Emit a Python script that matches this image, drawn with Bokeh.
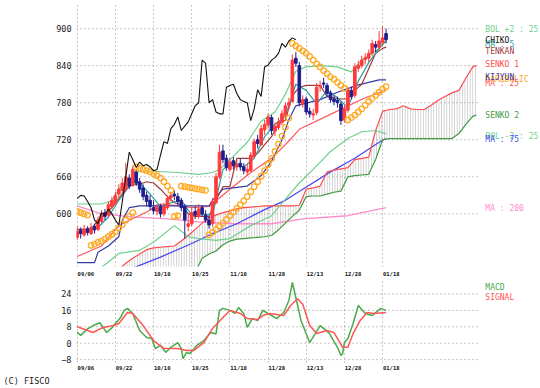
from bokeh.plotting import figure
from bokeh.models import Range1d, FixedTicker, ColumnDataSource, Title
from bokeh.core.properties import value
from bokeh.layouts import column
from bokeh.embed import file_html
from bokeh.resources import INLINE

# ---------------- data ----------------
tick_idx = [0, 11, 22, 33, 44, 55, 66, 77, 88]
tick_labels = ["09/06", "09/22", "10/10", "10/25", "11/10", "11/28", "12/13", "12/28", "01/18"]
price_ticks = [600, 660, 720, 780, 840, 900]
macd_ticks = [-8, 0, 8, 16, 24]

idx = list(range(90))
opens = [562, 574, 566, 576, 568, 580, 575, 588, 602, 598,
         612, 618, 632, 638, 640, 658, 646, 668, 652, 642,
         630, 622, 610, 604, 612, 600, 610, 626, 632, 628,
         622, 612, 580, 584, 604, 596, 610, 598, 590, 584,
         618, 660, 702, 690, 672, 686, 676, 682, 676, 668,
         670, 694, 720, 712, 736, 744, 756, 734, 740, 748,
         760, 776, 782, 852, 840, 778, 786, 766, 760, 764,
         806, 812, 808, 796, 786, 784, 778, 752, 768, 800,
         792, 836, 840, 850, 852, 860, 874, 870, 878, 892]
highs = [580, 578, 582, 580, 585, 584, 596, 606, 608, 620,
         628, 636, 648, 658, 682, 664, 678, 672, 658, 648,
         636, 630, 622, 616, 616, 618, 630, 636, 638, 634,
         626, 616, 600, 610, 612, 616, 614, 606, 596, 626,
         666, 712, 712, 696, 690, 692, 688, 690, 682, 680,
         700, 722, 728, 744, 752, 762, 760, 748, 756, 768,
         780, 788, 858, 862, 846, 792, 790, 772, 770, 812,
         816, 820, 812, 800, 792, 790, 782, 776, 806, 806,
         844, 848, 856, 860, 866, 882, 880, 896, 904, 900]
lows = [558, 560, 563, 565, 566, 568, 572, 585, 590, 594,
        608, 614, 626, 632, 636, 640, 644, 645, 634, 622,
        612, 606, 600, 598, 594, 596, 606, 620, 622, 614,
        604, 560, 572, 580, 592, 592, 596, 586, 576, 580,
        616, 656, 682, 670, 668, 672, 670, 670, 664, 662,
        668, 690, 706, 710, 728, 738, 728, 726, 736, 744,
        756, 770, 780, 838, 774, 772, 760, 756, 752, 760,
        798, 804, 790, 780, 776, 772, 744, 748, 764, 786,
        788, 830, 836, 842, 846, 856, 862, 866, 874, 876]
closes = [572, 568, 575, 570, 578, 574, 590, 600, 596, 615,
          622, 630, 640, 650, 660, 645, 672, 650, 640, 628,
          620, 612, 605, 610, 600, 612, 625, 630, 629, 620,
          610, 590, 584, 602, 598, 608, 600, 590, 582, 620,
          660, 700, 688, 675, 684, 678, 680, 676, 670, 672,
          695, 717, 714, 738, 745, 757, 735, 742, 749, 762,
          775, 780, 849, 844, 780, 785, 765, 762, 762, 805,
          808, 810, 795, 785, 782, 780, 751, 770, 801, 790,
          838, 841, 849, 853, 860, 876, 870, 880, 885, 882]

psar = [604, 602, 600, 598,
        549, 551, 554, 556, 559, 563, 567, 571, 577, 583, 590, 596, 602,
        676, 674, 672, 670, 668, 665, 662, 658, 652, 645, 638,
        596, 597,
        645, 644, 643, 642, 641, 640, 639, 638,
        566, 570, 575, 580, 585, 591, 597, 603, 609, 615, 621, 628, 636, 644,
        652, 661, 670, 680, 690, 701, 713, 726, 740, 755,
        876, 872, 868, 864, 860, 855, 849, 843, 838, 832, 827, 822, 818, 813, 808, 803,
        752, 756, 760, 765, 770, 776, 782, 787, 792, 797, 802, 806]

ma5_x = [0, 3, 6, 9, 12, 15, 18, 21, 24, 27, 30, 33, 36, 39, 42, 45, 48, 51, 54, 57, 60, 63, 66, 69, 72, 75, 78, 81, 84, 87, 89]
ma5_y = [568, 572, 578, 595, 622, 645, 650, 632, 612, 618, 622, 598, 600, 598, 672, 684, 676, 690, 725, 745, 758, 810, 800, 778, 800, 788, 772, 815, 845, 868, 880]

tenkan_x = [0, 4, 6, 8, 10, 12, 14, 16, 18, 20, 22, 24, 26, 28, 30, 32, 34, 36, 38, 40, 42, 44,
            46, 48, 50, 52, 54, 56, 58, 60, 62, 64, 66, 68, 70, 72, 74, 76, 78, 80, 82, 84, 86, 88, 89]
tenkan_y = [575, 575, 590, 598, 610, 625, 640, 648, 648, 652, 650, 640, 628, 618, 615, 600, 596, 596, 596, 622, 644, 644,
            690, 690, 690, 698, 712, 725, 745, 752, 792, 805, 808, 808, 808, 790, 788, 786, 786, 800, 810, 835, 860, 868, 870]

kijun_x = [0, 5, 6, 9, 12, 13, 15, 18, 38, 39, 42, 49, 53, 56, 59, 61, 63, 70, 75, 81, 87, 89]
kijun_y = [521, 521, 538, 548, 563, 590, 610, 613, 613, 622, 640, 645, 662, 685, 720, 753, 775, 785, 797, 809, 817, 817]

bolu_x = [0, 7, 10, 12, 15, 18, 22, 29, 35, 39, 41, 45, 49, 53, 57, 60, 63, 66, 70, 75, 79, 82, 87, 89]
bolu_y = [616, 616, 621, 640, 656, 669, 669, 667, 664, 667, 672, 693, 716, 750, 765, 794, 831, 838, 840, 838, 830, 849, 868, 889]

boll_x = [0, 5, 9, 12, 18, 22, 28, 32, 35, 40, 44, 50, 56, 60, 64, 68, 73, 78, 82, 86, 89]
boll_y = [500, 505, 522, 536, 541, 554, 581, 563, 560, 557, 560, 581, 597, 624, 650, 672, 701, 722, 733, 735, 730]

ma25_x = [0, 7, 11, 13, 16, 20, 24, 28, 33, 38, 44, 50, 56, 61, 64, 74, 83, 89]
ma25_y = [531, 548, 575, 584, 592, 603, 616, 614, 610, 612, 640, 667, 690, 718, 737, 764, 788, 800]

ma75_x = [15, 24, 33, 39, 46, 54, 60, 65, 73, 80, 87, 89]
ma75_y = [510, 530, 552, 568, 584, 607, 622, 640, 668, 690, 716, 722]

ma200_x = [0, 7, 16, 26, 35, 45, 56, 65, 78, 89]
ma200_y = [613, 600, 595, 592, 587, 584, 584, 592, 597, 610]

cloud_x = [10, 12, 14, 16, 18, 20, 22, 24, 26, 28, 30, 32, 34, 36, 38, 40, 42, 44, 46, 48,
           50, 52, 54, 56, 58, 60, 62, 64, 66, 68, 70, 72, 74, 76, 78, 80, 82, 84, 86, 88,
           90, 92, 94, 96, 98, 100, 102, 104, 106, 108, 110, 112, 114, 115]
senko1 = [500, 510, 520, 528, 535, 542, 545, 546, 547, 548, 556, 565, 575, 585, 594, 598, 602, 605, 608, 610,
          611, 612, 613, 613, 613, 613, 613, 614, 640, 642, 645, 668, 671, 673, 675, 688, 690, 692, 735, 766,
          769, 770, 775, 770, 769, 769, 776, 784, 790, 796, 800, 820, 838, 840]
senko2 = [490, 490, 490, 490, 490, 490, 490, 490, 490, 490, 490, 490, 505, 528, 535, 540, 550, 556, 559, 560,
          561, 562, 563, 565, 574, 585, 596, 606, 628, 629, 629, 632, 635, 637, 660, 662, 663, 664, 688, 720,
          722, 722, 722, 722, 722, 722, 722, 722, 722, 722, 730, 745, 758, 760]

macd_x = [0, 1, 3, 4.5, 6.5, 8.5, 10, 12.5, 13.5, 14.5, 16, 18, 20, 21.5, 22.5, 24, 25.5, 27, 29, 30,
          30.5, 31.5, 32.5, 34.5, 36.5, 38.5, 40, 41, 42, 44, 45.5, 46.5, 48, 49, 50.5, 52, 53.5, 55.5, 57.5, 59.5,
          61, 62, 63, 64.5, 67, 70, 72.5, 75, 76, 76.5, 77, 78, 79.5, 81, 83, 85, 87.5, 89]
macd_y = [5.5, 3.8, 7, 8.5, 10, 5.2, 7.5, 12.5, 16, 17, 14.5, 6.2, 2.8, 2.3, -2.6, -1, -4.5, -2, 0.3, -2.6,
          -7.5, -4.5, -5, -1, 1.3, 5.2, 4.5, 16, 17, 16, 14.5, 17.4, 14.5, 7.7, 12, 11, 16, 14, 12, 15,
          20.8, 29.6, 22.3, 11, 0.3, 8.6, 5.2, -2, -6, -5, 0.3, 2.3, 9.6, 18.4, 14.5, 13.5, 17, 16]
signal_x = [0, 3, 4.5, 7.5, 10.5, 12, 14.5, 16, 19, 22, 25, 29, 31.5, 33.5, 36.5, 39, 42, 44, 47, 49,
            52, 53.5, 55.5, 59.5, 61.5, 63.5, 65, 67, 69, 72, 74, 76.5, 78, 79.5, 81.5, 83.5, 85.5, 89]
signal_y = [8, 6.2, 5.2, 7.7, 8.6, 9.6, 15, 14.5, 8.6, 1.3, -2.6, -2.6, -3.6, -3.6, 0.3, 7.2, 12.5, 16, 14.5, 12,
            11.6, 13.5, 14.5, 13.5, 18.4, 21.7, 19, 8.6, 4.7, 6.2, 5.2, -2, -2, 4.7, 11, 15, 14.5, 15]

main_legend_text = ["BOL +2 : 25", "MA : 5", "CHIKO", "TENKAN", "SENKO 1", "PARABOLIC",
                    "MA : 25", "KIJYUN", "SENKO 2", "BOL -2 : 25", "MA : 75", "MA : 200"]
main_legend_y = [898.9, 874.8, 881.2, 862.7, 841.8, 817.0, 810.5, 820.2, 759.1, 726.1, 720.5, 608.0]
macd_legend_text = ["MACD", "SIGNAL"]
macd_legend_y = [27.4, 22.3]

# ---------------- styles ----------------
MONO = "DejaVu Sans Mono"
GRID = "#8c8c8c"
C_UP = "#ff3a3a"
C_DN = "#1f1f8f"
C_BOL = "#6fd08c"
C_TEAL = "#2f9f9f"
C_TENKAN = "#a03a3a"
C_SENKO1 = "#ff4d4d"
C_KIJUN = "#3a3aa0"
C_MA25 = "#ff5a5a"
C_SAR = "#ffaa22"
C_SENKO2 = "#3f9a3f"
C_MA75 = "#4a4af0"
C_MA200 = "#ff8ccc"
C_MACD = "#4aaa4a"
C_SIG = "#ff5555"
main_legend_color = [C_BOL, C_TEAL, "#111111", C_TENKAN, C_SENKO1, C_SAR,
                     C_MA25, C_KIJUN, C_SENKO2, C_BOL, C_MA75, C_MA200]
macd_legend_color = [C_MACD, C_SIG]

X0, X1 = -0.2, 115.36          # extent of the gridded chart area
XR = 133.5                      # frame reaches the right edge (legend lives there)
LEG_X = 117.6
LAB_OFF = 2.5


def style(fig, yticks, standoff):
    fig.outline_line_color = None
    fig.background_fill_color = "white"
    fig.border_fill_color = "white"
    fig.xaxis.ticker = FixedTicker(ticks=[t + LAB_OFF for t in tick_idx])
    fig.xaxis.major_label_overrides = {t + LAB_OFF: s for t, s in zip(tick_idx, tick_labels)}
    fig.xaxis.major_tick_line_color = None
    fig.xaxis.major_tick_out = 0
    fig.xaxis.major_tick_in = 0
    fig.xaxis.minor_tick_line_color = None
    fig.xaxis.axis_line_color = None
    fig.xaxis.major_label_standoff = standoff
    fig.xaxis.major_label_text_font = MONO
    fig.xaxis.major_label_text_font_size = "5.5px"
    fig.xaxis.major_label_text_font_style = "bold"
    fig.xaxis.major_label_text_color = "#111111"
    fig.yaxis.ticker = FixedTicker(ticks=yticks)
    fig.yaxis.major_tick_line_color = None
    fig.yaxis.major_tick_out = 0
    fig.yaxis.major_tick_in = 0
    fig.yaxis.minor_tick_line_color = None
    fig.yaxis.axis_line_color = None
    fig.yaxis.major_label_standoff = 5
    fig.yaxis.major_label_text_font = MONO
    fig.yaxis.major_label_text_font_size = "8.5px"
    fig.yaxis.major_label_text_color = "#222222"
    fig.xgrid.ticker = FixedTicker(ticks=tick_idx)
    fig.xgrid.grid_line_color = GRID
    fig.xgrid.grid_line_dash = "1 3"
    fig.ygrid.grid_line_color = None
    # horizontal dotted grid, limited to the chart area
    fig.segment(x0=[X0] * len(yticks), x1=[X1] * len(yticks), y0=yticks, y1=yticks,
                line_color=GRID, line_dash="1 3", line_width=1)


def legend(fig, ys, texts, colors):
    fig.text(x=[LEG_X] * len(texts), y=ys, text=texts, text_color=colors,
             text_font=value(MONO), text_font_size="8px",
             text_baseline="middle", text_align="left")


# ---------------- main panel ----------------
main = figure(width=540, height=279, x_range=Range1d(X0, XR), y_range=Range1d(514.8, 942.3),
              output_backend="svg", toolbar_location=None, tools="",
              min_border_left=76, min_border_right=0, min_border_top=2, min_border_bottom=11)
style(main, price_ticks, 4)

main.varea(x=cloud_x, y1=senko1, y2=senko2, fill_alpha=0, hatch_pattern="vertical_line",
           hatch_color="#b4b4b4", hatch_weight=0.7, hatch_scale=2.6)
main.line(ma200_x, ma200_y, color=C_MA200, line_width=1.3)
main.line(ma75_x, ma75_y, color=C_MA75, line_width=1.3)
main.line(cloud_x, senko2, color=C_SENKO2, line_width=1.2)
main.line(cloud_x, senko1, color=C_SENKO1, line_width=1.2)
main.line(bolu_x, bolu_y, color=C_BOL, line_width=1.2)
main.line(boll_x, boll_y, color=C_BOL, line_width=1.2)
main.line(ma25_x, ma25_y, color=C_MA25, line_width=1.2)
main.line(kijun_x, kijun_y, color=C_KIJUN, line_width=1.2)
main.line(tenkan_x, tenkan_y, color=C_TENKAN, line_width=1.2)
main.line(ma5_x, ma5_y, color=C_TEAL, line_width=1.2)

colors = [C_UP if c >= o else C_DN for o, c in zip(opens, closes)]
src = ColumnDataSource(dict(x=idx, h=highs, l=lows,
                            top=[max(o, c) for o, c in zip(opens, closes)],
                            bot=[min(o, c) for o, c in zip(opens, closes)],
                            color=colors))
main.segment(x0="x", y0="l", x1="x", y1="h", color="color", line_width=1, source=src)
main.vbar(x="x", top="top", bottom="bot", width=0.75, fill_color="color", line_color="color", source=src)

main.scatter(idx, psar, size=5.5, marker="circle", line_color=C_SAR, line_width=1.3, fill_alpha=0)
main.line(idx[:len(closes) - 26], closes[26:], color="#111111", line_width=1.1)

legend(main, main_legend_y, main_legend_text, main_legend_color)

# ---------------- MACD panel ----------------
macd = figure(width=540, height=109, x_range=Range1d(X0, XR), y_range=Range1d(-9.41, 31.07),
              output_backend="svg", toolbar_location=None, tools="",
              min_border_left=76, min_border_right=0, min_border_top=0, min_border_bottom=26)
style(macd, macd_ticks, 2)
macd.line(macd_x, macd_y, color=C_MACD, line_width=1.5)
macd.line(signal_x, signal_y, color=C_SIG, line_width=1.5)
legend(macd, macd_legend_y, macd_legend_text, macd_legend_color)
macd.add_layout(Title(text="(C) FISCO", align="left", offset=-73, standoff=0,
                      text_font=MONO, text_font_size="8.5px", text_font_style="normal",
                      text_color="#222222"), "below")

p = column(main, macd)

open("out.html", "w").write(file_html(p, INLINE))
